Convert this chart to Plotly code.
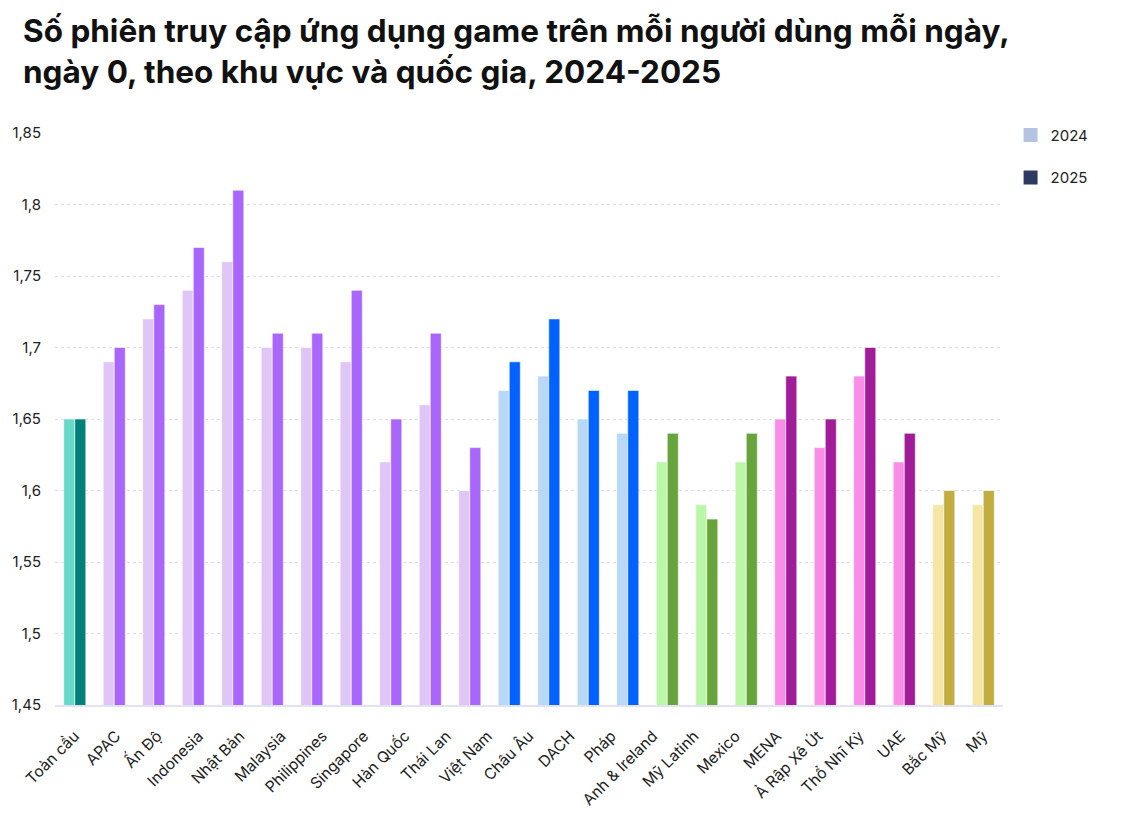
import plotly.graph_objects as go

# Tick labels (23 labels shown in the reference, spread across 24 bar groups)
labels = ["Toàn cầu", "APAC", "Ấn Độ", "Indonesia", "Nhật Bản", "Malaysia", "Philippines",
          "Singapore", "Hàn Quốc", "Thái Lan", "Việt Nam", "Châu Âu", "DACH", "Pháp",
          "Anh & Ireland", "Mỹ Latinh", "Mexico", "MENA", "Ả Rập Xê Út", "Thổ Nhĩ Kỳ",
          "UAE", "Bắc Mỹ", "Mỹ"]

# Bar-group values (24 groups)
v2024 = [1.65, 1.69, 1.72, 1.74, 1.76, 1.70, 1.70, 1.69, 1.62, 1.66, 1.60,
         1.67, 1.68, 1.65, 1.64,
         1.62, 1.59, 1.62,
         1.65, 1.63, 1.68, 1.62,
         1.59, 1.59]
v2025 = [1.65, 1.70, 1.73, 1.77, 1.81, 1.71, 1.71, 1.74, 1.65, 1.71, 1.63,
         1.69, 1.72, 1.67, 1.67,
         1.64, 1.58, 1.64,
         1.68, 1.65, 1.70, 1.64,
         1.60, 1.60]
# region of each group
region = ["global"] + ["apac"] * 10 + ["eu"] * 4 + ["latam"] * 3 + ["mena"] * 4 + ["na"] * 2

light = {"global": "#66d9c8", "apac": "#dfc6f6", "eu": "#b8d8f8", "latam": "#bcf7a8",
         "mena": "#f98ee9", "na": "#f5e6a3"}
dark = {"global": "#008078", "apac": "#a966fa", "eu": "#0062ff", "latam": "#67a43c",
        "mena": "#a01c98", "na": "#c1ad40"}

title_text = ("<b>Số phiên truy cập ứng dụng game trên mỗi người dùng mỗi ngày,</b><br>"
              "<b>ngày 0, theo khu vực và quốc gia, 2024-2025</b>")

n = len(v2024)
xs = list(range(n))

fig = go.Figure()
fig.add_trace(go.Bar(x=xs, y=v2024, marker=dict(color=[light[r] for r in region],
                     line=dict(color="rgba(255,255,255,0.6)", width=1)),
                     showlegend=False, hoverinfo="y"))
fig.add_trace(go.Bar(x=xs, y=v2025, marker=dict(color=[dark[r] for r in region],
                     line=dict(color="rgba(255,255,255,0.6)", width=1)),
                     showlegend=False, hoverinfo="y"))
# legend entries
fig.add_trace(go.Scatter(x=[None], y=[None], mode="markers", name="2024", legendgroup="a",
                         marker=dict(symbol="square", size=16, color="#b5c3e3",
                                     line=dict(color="#b5c3e3", width=4))))
fig.add_trace(go.Scatter(x=[None], y=[None], mode="markers", name="2025", legendgroup="b",
                         marker=dict(symbol="square", size=16, color="#2e3a62",
                                     line=dict(color="#2e3a62", width=4))))

m = len(labels)
tickvals = [i * (n - 1) / (m - 1) for i in range(m)]

fig.add_annotation(text=title_text, xref="paper", yref="paper",
                   x=-34 / 948, y=1 + (133 - 9) / 572, xanchor="left", yanchor="top",
                   align="left", showarrow=False,
                   font=dict(size=31.5, color="#111111", family="Inter, sans-serif"))

fig.update_layout(
    width=1128, height=827,
    margin=dict(l=55, r=125, t=133, b=122),
    paper_bgcolor="white", plot_bgcolor="white",
    separators=",.",
    barmode="group", bargap=0.44, bargroupgap=0,
    font=dict(family="Inter, sans-serif", color="#222222"),
    legend=dict(x=1.008, xanchor="left", y=1.025, yanchor="top", tracegroupgap=20,
                traceorder="grouped", font=dict(size=15, color="#222222"),
                itemsizing="constant"),
    xaxis=dict(range=[-0.5, n - 0.5], tickmode="array", tickvals=tickvals, ticktext=labels,
               tickangle=-45, tickfont=dict(size=15.5, color="#222222"),
               showgrid=False, showline=True, linecolor="#e2e2f2", linewidth=2,
               zeroline=False, ticks="outside", ticklen=14, tickcolor="rgba(0,0,0,0)",
               fixedrange=True),
    yaxis=dict(range=[1.45, 1.85], tick0=1.45, dtick=0.05, showgrid=True,
               gridcolor="#dcdcea", griddash="dot", gridwidth=1, zeroline=False,
               tickfont=dict(size=15, color="#222222"), ticks="outside", ticklen=10,
               tickcolor="rgba(0,0,0,0)", showline=False),
)

fig.write_html("out.html")
